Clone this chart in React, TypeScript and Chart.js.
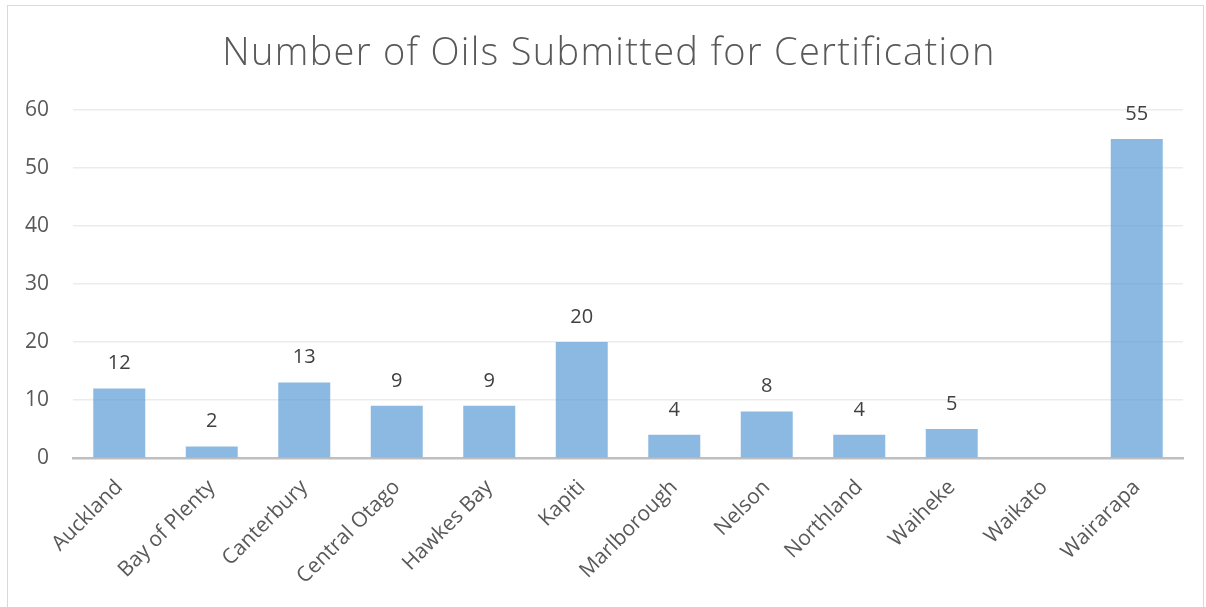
import React, { useEffect, useRef } from "react";
import { Chart, registerables } from "chart.js";

Chart.register(...registerables);

const TITLE = "Number of Oils Submitted for Certification";
const categories = [
  "Auckland",
  "Bay of Plenty",
  "Canterbury",
  "Central Otago",
  "Hawkes Bay",
  "Kapiti",
  "Marlborough",
  "Nelson",
  "Northland",
  "Waiheke",
  "Waikato",
  "Wairarapa",
];
const oilCounts: (number | null)[] = [12, 2, 13, 9, 9, 20, 4, 8, 4, 5, null, 55];
const yTicks = [0, 10, 20, 30, 40, 50, 60];

const W = 1206;
const H = 607;

const titlePlugin = {
  id: "customTitle",
  afterDraw(chart: any) {
    const ctx = chart.ctx;
    ctx.save();
    ctx.font = "300 38px 'Open Sans'";
    try {
      (ctx as any).letterSpacing = "1.3px";
    } catch (e) {}
    ctx.fillStyle = "#595959";
    ctx.textAlign = "center";
    ctx.textBaseline = "middle";
    ctx.fillText(TITLE, W / 2 + 6, 54);
    ctx.restore();
  },
};

const labelPlugin = {
  id: "barValueLabels",
  afterDatasetsDraw(chart: any) {
    const ctx = chart.ctx;
    const meta = chart.getDatasetMeta(0);
    const data = chart.data.datasets[0].data;
    ctx.save();
    ctx.font = "20px 'Open Sans'";
    ctx.fillStyle = "#404040";
    ctx.textAlign = "center";
    ctx.textBaseline = "middle";
    meta.data.forEach((el: any, i: number) => {
      const v = data[i];
      if (v === null || v === undefined) return;
      ctx.fillText(String(v), el.x, el.y - 25);
    });
    ctx.restore();
  },
};

export default function App() {
  const ref = useRef<HTMLCanvasElement | null>(null);

  useEffect(() => {
    if (!ref.current) return;
    const chart = new Chart(ref.current, {
      type: "bar",
      data: {
        labels: categories,
        datasets: [
          {
            data: oilCounts,
            backgroundColor: "rgba(91,155,213,0.7)",
            borderWidth: 0,
            barPercentage: 0.562,
            categoryPercentage: 1,
          },
        ],
      },
      options: {
        animation: false,
        responsive: false,
        maintainAspectRatio: false,
        layout: { padding: { top: 110, right: 23, left: 0, bottom: 0 } },
        plugins: {
          legend: { display: false },
          title: { display: false },
          tooltip: { enabled: false },
        },
        scales: {
          x: {
            grid: { display: false, drawTicks: false },
            border: { color: "#bfbfbf", width: 2.5 },
            ticks: {
              autoSkip: false,
              minRotation: 45,
              maxRotation: 45,
              padding: 17,
              color: "#595959",
              font: { family: "'Open Sans'", size: 21 },
            },
            afterFit: (s: any) => {
              s.height = 149;
            },
          },
          y: {
            min: 0,
            max: 60,
            afterBuildTicks: (s: any) => {
              s.ticks = yTicks.map((v) => ({ value: v }));
            },
            grid: { color: "#ececec", lineWidth: 1.5, drawTicks: false },
            border: { display: false },
            ticks: {
              padding: 24,
              color: "#595959",
              font: { family: "'Open Sans'", size: 21 },
            },
            afterFit: (s: any) => {
              s.width = 73;
            },
          },
        },
      },
      plugins: [titlePlugin, labelPlugin],
    });
    return () => chart.destroy();
  }, []);

  return (
    <div style={{ position: "absolute", left: 0, top: 0, width: W, height: H, background: "#fff", overflow: "hidden" }}>
      <div
        style={{
          position: "absolute",
          left: 7,
          top: 5,
          width: 1197,
          height: 620,
          border: "1px solid #d9d9d9",
          boxSizing: "border-box",
        }}
      />
      <canvas ref={ref} width={W} height={H} style={{ position: "absolute", left: 0, top: 0, width: W, height: H }} />
    </div>
  );
}
